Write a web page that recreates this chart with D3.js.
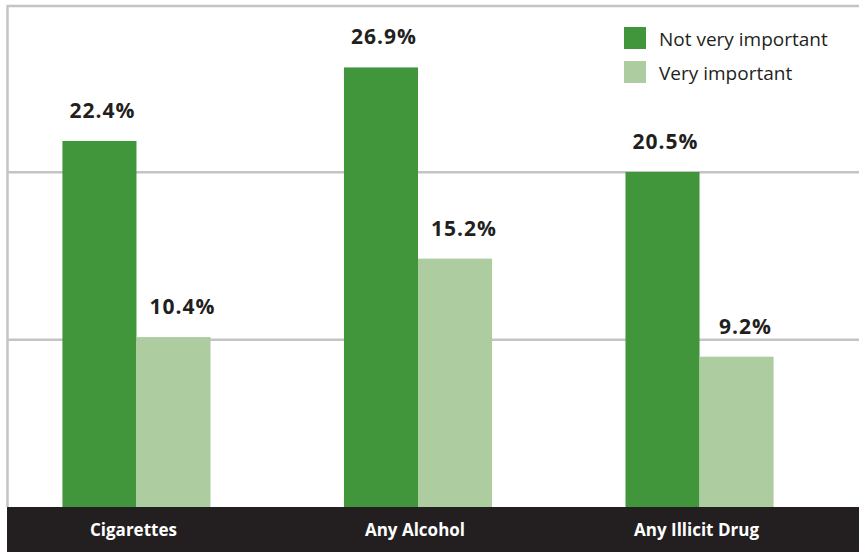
<!DOCTYPE html>
<html>
<head>
<meta charset="utf-8">
<script src="https://cdn.jsdelivr.net/npm/d3@7"></script>
<style>
  body { margin: 0; background: #fff; }
  svg { display: block; }
</style>
</head>
<body>
<div id="chart"></div>
<script>
// data
var categories = ["Cigarettes", "Any Alcohol", "Any Illicit Drug"];
var seriesNames = ["Not very important", "Very important"];
var notVeryImportant = [22.4, 26.9, 20.5];
var veryImportant = [10.4, 15.2, 9.2];
var yMax = 30.72;

var width = 859, height = 552;
var baseY = 507;
var colors = ["#41963b", "#adcda0"];
var ink = "#231f20";

var rows = categories.map(function (c, i) {
    return { cat: c, values: [notVeryImportant[i], veryImportant[i]] };
});

var svg = d3.select("#chart").append("svg")
    .attr("width", width)
    .attr("height", height);

// scales
var x0 = d3.scaleBand()
    .domain(categories)
    .range([9.5, 826.5])
    .paddingInner(0.474)
    .paddingOuter(0.188);

var x1 = d3.scaleBand()
    .domain(d3.range(seriesNames.length))
    .range([0, x0.bandwidth()]);

var y = d3.scaleLinear()
    .domain([0, yMax])
    .range([baseY, 5]);

// gridlines at thirds of the frame
svg.append("g")
    .selectAll("line")
    .data([yMax / 3, 2 * yMax / 3])
    .enter().append("line")
    .attr("x1", 8)
    .attr("x2", width)
    .attr("y1", function (d) { return y(d); })
    .attr("y2", function (d) { return y(d); })
    .style("stroke", "#c4c4c6")
    .style("stroke-width", 2.5);

// frame: top and left
svg.append("line")
    .attr("x1", 7).attr("x2", width)
    .attr("y1", y(yMax) + 1).attr("y2", y(yMax) + 1)
    .style("stroke", "#c4c4c6")
    .style("stroke-width", 2.5);
svg.append("line")
    .attr("x1", 7.5).attr("x2", 7.5)
    .attr("y1", y(yMax)).attr("y2", baseY)
    .style("stroke", "#c4c4c6")
    .style("stroke-width", 2.5);

// bars
var groups = svg.selectAll(".grp")
    .data(rows)
    .enter().append("g")
    .attr("class", "grp")
    .attr("transform", function (d) { return "translate(" + x0(d.cat) + ",0)"; });

groups.selectAll("rect")
    .data(function (d) { return d.values; })
    .enter().append("rect")
    .attr("x", function (d, i) { return x1(i); })
    .attr("y", function (d) { return y(d); })
    .attr("width", x1.bandwidth())
    .attr("height", function (d) { return baseY - y(d); })
    .style("fill", function (d, i) { return colors[i]; });

// value labels
groups.selectAll(".val")
    .data(function (d) { return d.values; })
    .enter().append("text")
    .attr("class", "val")
    .attr("x", function (d, i) { return x1(i) + x1.bandwidth() / 2 + (i == 0 ? 3 : 9); })
    .attr("y", function (d) { return y(d) - 23; })
    .attr("text-anchor", "middle")
    .style("font-family", "'Open Sans', sans-serif")
    .style("font-weight", "bold")
    .style("font-size", "21px")
    .style("letter-spacing", "1px")
    .style("fill", ink)
    .text(function (d) { return d.toFixed(1) + "%"; });

// dark category band
svg.append("rect")
    .attr("x", 7)
    .attr("y", baseY)
    .attr("width", width - 7)
    .attr("height", height - baseY)
    .style("fill", ink);

svg.selectAll(".cat")
    .data(categories)
    .enter().append("text")
    .attr("class", "cat")
    .attr("x", function (d) { return x0(d) + x0.bandwidth() / 2 - 3; })
    .attr("y", 536)
    .attr("text-anchor", "middle")
    .style("font-family", "'Open Sans', sans-serif")
    .style("font-weight", "bold")
    .style("font-size", "17px")
    .style("fill", "#fff")
    .text(function (d) { return d; });

// legend
var legend = svg.selectAll(".leg")
    .data(seriesNames)
    .enter().append("g")
    .attr("class", "leg")
    .attr("transform", function (d, i) { return "translate(624," + (27 + i * 34) + ")"; });

legend.append("rect")
    .attr("width", 22)
    .attr("height", 22)
    .style("fill", function (d, i) { return colors[i]; });

legend.append("text")
    .attr("x", 35)
    .attr("y", 19)
    .style("font-family", "'Open Sans', sans-serif")
    .style("font-size", "19px")
    .style("fill", ink)
    .text(function (d) { return d; });
</script>
</body>
</html>
